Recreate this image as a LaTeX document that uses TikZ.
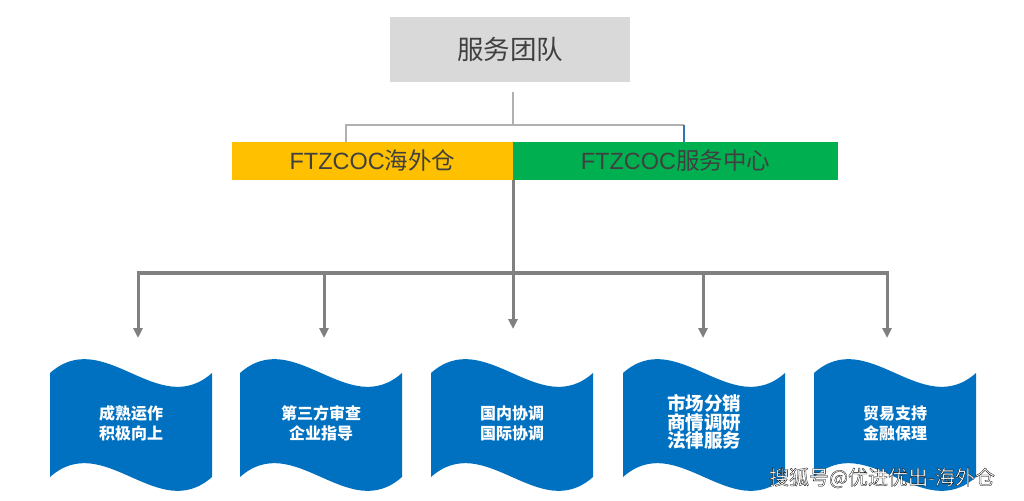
\documentclass[tikz,border=0pt]{standalone}
\usepackage{fontspec}
\setmainfont{Liberation Sans}
\newfontfamily\cjk{Noto Sans CJK SC}
\newfontfamily\lat{Liberation Sans}
\newfontfamily\wmfont[FakeBold=1.5]{Noto Sans CJK SC}
\usetikzlibrary{arrows.meta}
\definecolor{topgray}{HTML}{D9D9D9}
\definecolor{txtgray}{HTML}{404040}
\definecolor{orng}{HTML}{FFC000}
\definecolor{grn}{HTML}{00B050}
\definecolor{wblue}{HTML}{0070C0}
\definecolor{lline}{HTML}{B0B0B0}
\definecolor{dline}{HTML}{808080}
\definecolor{tick}{HTML}{2E75B6}
\tikzset{
  lg/.style={draw=lline, line width=2.5pt},
  dg/.style={draw=dline, line width=3pt},
  arr/.style={dg, -{Triangle[length=10pt,width=9pt]}},
  bar/.style={inner sep=0pt, outer sep=0pt, minimum height=38pt, font=\fontsize{23.5}{25}\selectfont, text=txtgray},
  wtxt/.style={align=center, text=white, font=\cjk\bfseries\fontsize{16}{20}\selectfont, inner sep=0pt},
  wave/.style={fill=wblue, draw=none},
}
\newcommand{\wavebox}[1]{%
  \fill[wave] (#1,373) .. controls ({#1+54},325) and ({#1+108},421) .. ({#1+162},373)
     -- ({#1+162},477) .. controls ({#1+108},525) and ({#1+54},429) .. (#1,477) -- cycle;}
\begin{document}
\begin{tikzpicture}[x=1pt,y=-1pt]
\useasboundingbox[fill=white] (0,0) rectangle (1024,500);

% top box
\node[fill=topgray, minimum width=240pt, minimum height=65pt, inner sep=0pt,
      text=txtgray, font=\cjk\fontsize{26.5}{28}\selectfont] (top) at (510,49.5) {服务团队};

% second level
\node[bar, fill=orng, minimum width=281pt] (ow) at (372.5,161) {{\lat FTZCOC}{\cjk 海外仓}};
\node[bar, fill=grn, minimum width=325pt] (sc) at (675.5,161) {{\lat FTZCOC}{\cjk 服务中心}};

% connectors top
\coordinate (L) at (346,125);
\coordinate (R) at (684,125);
\coordinate (J) at (513,125);
\draw[lg] ([yshift=-10pt]top.south -| J) -- (J);
\draw[lg] (L |- ow.north) -- (L) -- (R);
\draw[draw=tick, line width=2pt] (R) -- (R |- sc.north);

% trunk and bar
\coordinate (T) at (513,273);
\coordinate (H1) at (138,273);
\coordinate (H5) at (887,273);
\draw[dg] (ow.south east) -- (T);
\draw[dg, line width=4pt] ([xshift=-1.5pt]H1) -- ([xshift=1.5pt]H5);

% wave boxes
\wavebox{50}
\wavebox{240}
\wavebox{431}
\wavebox{623}
\wavebox{814}
\node[wtxt] (b1) at (131,423) {成熟运作\\积极向上};
\node[wtxt] (b2) at (321,423) {第三方审查\\企业指导};
\node[wtxt] (b3) at (512,423) {国内协调\\国际协调};
\node[wtxt, font=\cjk\bfseries\fontsize{18.5}{17.5}\selectfont] (b4) at (704,422) {市场分销\\商情调研\\法律服务};
\node[wtxt] (b5) at (895,423) {贸易支持\\金融保理};

% arrow ends
\coordinate (e1) at (138,338);
\coordinate (e2) at (324,338);
\coordinate (e3) at (513,329);
\coordinate (e4) at (703,338);
\coordinate (e5) at (887,338);
\draw[arr] (H1) -- (e1);
\draw[arr] (e2 |- T) -- (e2);
\draw[arr] (T) -- (e3);
\draw[arr] (e4 |- T) -- (e4);
\draw[arr] (H5) -- (e5);

% watermark
\node[inner sep=0pt] (wm) at (882,478)
  {\color{white}\special{pdf:literal 0 0 0 RG}\wmfont\fontsize{20}{22}\selectfont 搜狐号@优进优出-海外仓};
\end{tikzpicture}
\end{document}
